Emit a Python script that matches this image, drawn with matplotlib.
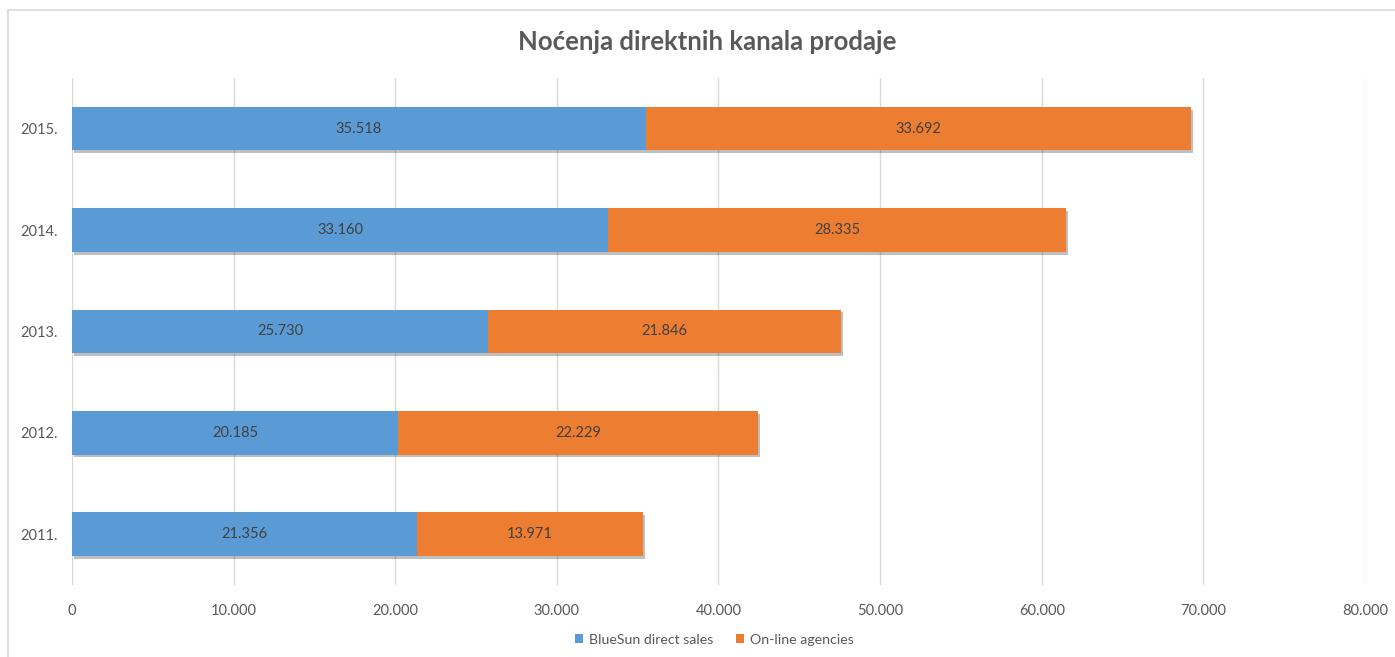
import matplotlib
matplotlib.use("Agg")
import matplotlib.pyplot as plt
import matplotlib.patheffects as pe
from matplotlib.lines import Line2D

plt.rcParams['font.family'] = ['Lato', 'DejaVu Sans']

# Data
years = ['2011.', '2012.', '2013.', '2014.', '2015.']
direct_sales = [21356, 20185, 25730, 33160, 35518]
online_agencies = [13971, 22229, 21846, 28335, 33692]
xticks = [0, 10000, 20000, 30000, 40000, 50000, 60000, 70000, 80000]

blue = '#5B9BD5'
orange = '#ED7D31'
text_grey = '#595959'

fig = plt.figure(figsize=(13.95, 6.57), dpi=100)
ax = fig.add_axes([0.0516, 0.1096, 0.9269, 0.7717])

shadow = [pe.SimplePatchShadow(offset=(1.5, -2), shadow_rgbFace='#000000', alpha=0.25), pe.Normal()]

b1 = ax.barh(years, direct_sales, height=0.43, color=blue, label='BlueSun direct sales',
             zorder=3, path_effects=shadow)
b2 = ax.barh(years, online_agencies, left=direct_sales, height=0.43, color=orange,
             label='On-line agencies', zorder=3, path_effects=shadow)

fmt = lambda v: f"{v:,.0f}".replace(',', '.')
ax.bar_label(b1, labels=[fmt(v) for v in direct_sales], label_type='center',
             color='#404040', fontsize=10.5, zorder=4)
ax.bar_label(b2, labels=[fmt(v) for v in online_agencies], label_type='center',
             color='#404040', fontsize=10.5, zorder=4)

ax.set_xlim(0, 80000)
ax.set_ylim(-0.5, 4.5)
ax.set_xticks(xticks)
ax.set_xticklabels([fmt(v) for v in xticks])
ax.tick_params(axis='both', length=0, colors=text_grey, labelsize=10.5)
ax.tick_params(axis='x', pad=14)
ax.tick_params(axis='y', pad=10)
ax.grid(axis='x', color='#D9D9D9', linewidth=1, zorder=0)
for s in ax.spines.values():
    s.set_visible(False)

fig.text(0.507, 0.936, 'Noćenja direktnih kanala prodaje', ha='center', va='center',
         fontsize=18.5, fontweight='bold', color=text_grey)

leg = ax.legend(loc='center', bbox_to_anchor=(0.512, 0.026), bbox_transform=fig.transFigure,
                ncol=2, frameon=False, fontsize=10.2, labelcolor=text_grey,
                handlelength=0.6, handleheight=0.6, handletextpad=0.4, columnspacing=1.6)
for h in leg.legend_handles:
    h.set_path_effects([])

# outer chart border (cut off at right and bottom)
fig.add_artist(Line2D([8 / 1395, 1], [1 - 10 / 657, 1 - 10 / 657], color='#D9D9D9', lw=1.2))
fig.add_artist(Line2D([8 / 1395, 8 / 1395], [0, 1 - 10 / 657], color='#D9D9D9', lw=1.2))

fig.savefig('out.png', dpi=100)
